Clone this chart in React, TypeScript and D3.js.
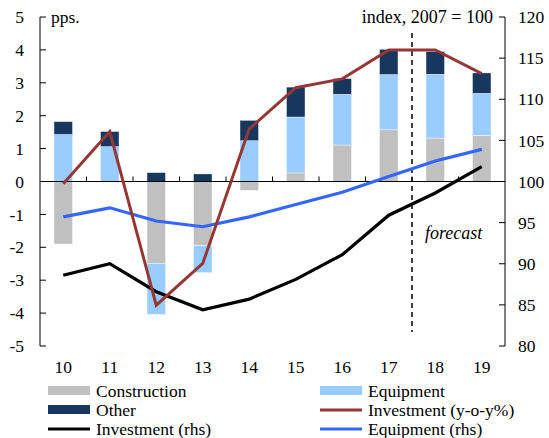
import React from "react";
import * as d3 from "d3";

const categories = ["10", "11", "12", "13", "14", "15", "16", "17", "18", "19"];
const construction = [-1.9, 0, -2.49, -1.95, -0.27, 0.26, 1.11, 1.57, 1.32, 1.4];
const equipment = [1.43, 1.06, -1.55, -0.82, 1.24, 1.7, 1.54, 1.68, 1.94, 1.28];
const other = [0.39, 0.46, 0.27, 0.23, 0.62, 0.91, 0.48, 0.77, 0.69, 0.62];
const investmentYoY = [-0.07, 1.52, -3.76, -2.49, 1.6, 2.85, 3.12, 4.0, 4.0, 3.28];
const investmentRhs = [88.6, 90.0, 86.6, 84.4, 85.7, 88.1, 91.1, 95.9, 98.6, 101.8];
const equipmentRhs = [95.7, 96.8, 95.2, 94.5, 95.7, 97.2, 98.7, 100.6, 102.5, 103.9];
const leftTicks = [-5, -4, -3, -2, -1, 0, 1, 2, 3, 4, 5];
const rightTicks = [80, 85, 90, 95, 100, 105, 110, 115, 120];

const FONT = "'Liberation Serif', 'Times New Roman', serif";
const C_CON = "#c0c0c0";
const C_EQ = "#99ccff";
const C_OTH = "#17375e";
const C_RED = "#953735";
const C_BLUE = "#3366ff";

export default function App() {
  const W = 549, H = 438;
  const x0 = 40, x1 = 505;
  const x = d3.scaleBand<string>().domain(categories).range([x0, x1]);
  const step = x.step();
  const cx = (i: number) => (x(categories[i]) as number) + step / 2;
  const bw = 18.5;
  const yL = d3.scaleLinear().domain([-5, 5]).range([346, 17]);
  const yR = d3.scaleLinear().domain([80, 120]).range([346, 17]);

  const segs: { x: number; y0: number; y1: number; c: string }[] = [];
  categories.forEach((_, i) => {
    let pos = 0, neg = 0;
    [
      [construction[i], C_CON],
      [equipment[i], C_EQ],
      [other[i], C_OTH],
    ].forEach(([v, c]) => {
      const val = v as number;
      if (val >= 0) {
        segs.push({ x: cx(i), y0: pos, y1: pos + val, c: c as string });
        pos += val;
      } else {
        segs.push({ x: cx(i), y0: neg, y1: neg + val, c: c as string });
        neg += val;
      }
    });
  });

  const lineL = d3.line<number>().x((_, i) => cx(i)).y((d) => yL(d));
  const lineR = d3.line<number>().x((_, i) => cx(i)).y((d) => yR(d));
  const forecastX = x0 + step * 8;

  const legend = [
    { label: "Construction", type: "rect", color: C_CON, col: 0, row: 0 },
    { label: "Equipment", type: "rect", color: C_EQ, col: 1, row: 0 },
    { label: "Other", type: "rect", color: C_OTH, col: 0, row: 1 },
    { label: "Investment (y-o-y%)", type: "line", color: C_RED, col: 1, row: 1 },
    { label: "Investment (rhs)", type: "line", color: "#000", col: 0, row: 2 },
    { label: "Equipment (rhs)", type: "line", color: C_BLUE, col: 1, row: 2 },
  ];
  const legX = [48, 320];
  const legY = [391, 410, 429];

  return (
    <svg width={W} height={H} style={{ position: "absolute", left: 0, top: 0, background: "#fff" }} fontFamily={FONT}>
      {segs.map((s, k) => (
        <rect key={k} x={s.x - bw / 2} width={bw} y={yL(Math.max(s.y0, s.y1))} height={Math.abs(yL(s.y0) - yL(s.y1))} fill={s.c} stroke="#fff" strokeWidth={0.4} />
      ))}
      {/* zero axis */}
      <line x1={x0} x2={x1} y1={yL(0)} y2={yL(0)} stroke="#000" strokeWidth={1} />
      {categories.slice(1).map((c) => (
        <line key={c} x1={x(c) as number} x2={x(c) as number} y1={yL(0)} y2={yL(0) - 5} stroke="#000" strokeWidth={1} />
      ))}
      {/* forecast */}
      <line x1={forecastX} x2={forecastX} y1={33} y2={332} stroke="#000" strokeWidth={1.5} strokeDasharray="5,4" />
      <text x={425} y={239} fontSize={18} fontStyle="italic">forecast</text>
      {/* lines */}
      <path d={lineR(investmentRhs) || ""} fill="none" stroke="#000" strokeWidth={3.2} />
      <path d={lineR(equipmentRhs) || ""} fill="none" stroke={C_BLUE} strokeWidth={3.2} />
      <path d={lineL(investmentYoY) || ""} fill="none" stroke={C_RED} strokeWidth={3} />
      {/* left axis */}
      <line x1={x0} x2={x0} y1={yL(5)} y2={yL(-5)} stroke="#000" strokeWidth={1} />
      {leftTicks.map((t) => (
        <g key={t}>
          <line x1={x0} x2={x0 + 6} y1={yL(t)} y2={yL(t)} stroke="#000" strokeWidth={1} />
          <text x={24} y={yL(t)} dy="0.35em" textAnchor="end" fontSize={17.5}>{t}</text>
        </g>
      ))}
      {/* right axis */}
      <line x1={x1} x2={x1} y1={yR(120)} y2={yR(80)} stroke="#000" strokeWidth={1} />
      {rightTicks.map((t) => (
        <g key={t}>
          <line x1={x1 - 6} x2={x1} y1={yR(t)} y2={yR(t)} stroke="#000" strokeWidth={1} />
          <text x={518} y={yR(t)} dy="0.35em" textAnchor="start" fontSize={17.5}>{t}</text>
        </g>
      ))}
      <text x={51} y={23} fontSize={17.5}>pps.</text>
      <text x={493} y={23} fontSize={18} textAnchor="end">index, 2007 = 100</text>
      {/* x labels */}
      {categories.map((c, i) => (
        <text key={c} x={cx(i)} y={373} textAnchor="middle" fontSize={17.5}>{c}</text>
      ))}
      {/* legend */}
      {legend.map((l) => {
        const lx = legX[l.col];
        const ly = legY[l.row];
        return (
          <g key={l.label}>
            {l.type === "rect" ? (
              <rect x={lx} y={ly - 5} width={42} height={9} fill={l.color} />
            ) : (
              <line x1={lx} x2={lx + 42} y1={ly} y2={ly} stroke={l.color} strokeWidth={3} />
            )}
            <text x={lx + 48} y={ly} dy="0.33em" fontSize={17.5}>{l.label}</text>
          </g>
        );
      })}
    </svg>
  );
}
